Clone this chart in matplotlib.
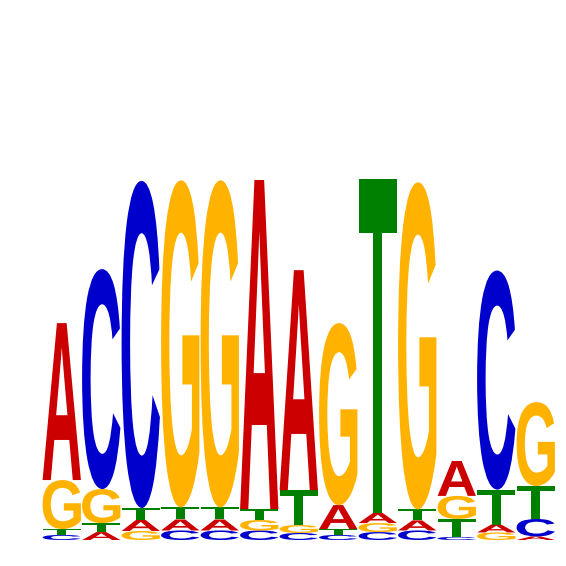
import matplotlib

matplotlib.use("Agg")
import matplotlib.pyplot as plt
from matplotlib.font_manager import FontProperties
from matplotlib.patches import PathPatch
from matplotlib.textpath import TextPath
from matplotlib.transforms import Affine2D

# information content (bits) of each base, positions 1..13
positions = list(range(1, 14))
bases = ["A", "C", "G", "T"]
a_bits = [0.872, 0.044, 0.061, 0.061, 0.061, 1.828, 1.222, 0.133, 0.056, 0.056, 0.194, 0.044, 0.020]
c_bits = [0.028, 1.222, 1.817, 0.053, 0.053, 0.053, 0.039, 0.028, 0.044, 0.053, 0.017, 1.217, 0.097]
g_bits = [0.272, 0.189, 0.050, 1.817, 1.817, 0.058, 0.044, 1.011, 0.050, 1.817, 0.128, 0.042, 0.466]
t_bits = [0.033, 0.050, 0.067, 0.067, 0.067, 0.061, 0.194, 0.033, 1.856, 0.061, 0.100, 0.194, 0.183]

colors = {"A": "#CC0000", "C": "#0000CC", "G": "#FFB300", "T": "#008000"}

font = FontProperties(family="Liberation Sans", weight="bold")


def draw_letter(ax, letter, x, y, height, width=0.97):
    """Dessine une lettre étirée pour remplir la boîte [x-w/2, x+w/2] x [y, y+h]."""
    path = TextPath((0, 0), letter, size=1, prop=font)
    ext = path.get_extents()
    tr = (Affine2D()
          .translate(-ext.x0, -ext.y0)
          .scale(width / ext.width, height / ext.height)
          .translate(x - width / 2, y))
    ax.add_patch(PathPatch(tr.transform_path(path), facecolor=colors[letter],
                           edgecolor="none", lw=0))


fig = plt.figure(figsize=(5.66, 5.66), dpi=100)
ax = fig.add_axes([0, 0, 1, 1])

table = {"A": a_bits, "C": c_bits, "G": g_bits, "T": t_bits}
for i, pos in enumerate(positions):
    stack = sorted(((table[b][i], b) for b in bases))
    y = 0.0
    for h, b in stack:
        draw_letter(ax, b, pos, y, h)
        y += h

px_bit = 180.0
px_col = 39.5
ax.set_xlim(0.5 - 42 / px_col, 13.5 + 10.5 / px_col)
ax.set_ylim(-26 / px_bit, 540 / px_bit)
ax.axis("off")

fig.savefig("out.png", dpi=100)
